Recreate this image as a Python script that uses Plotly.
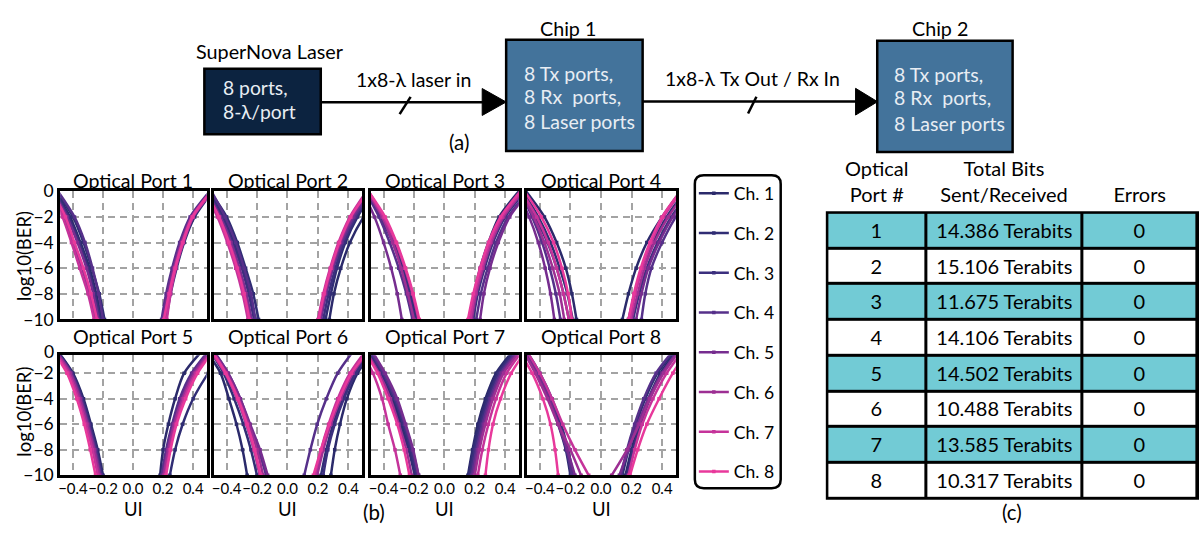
import plotly.graph_objects as go

W, H = 1199, 536
FONT = "Lato"

# ---------------- data ----------------
CHANNELS = ["Ch. 1", "Ch. 2", "Ch. 3", "Ch. 4", "Ch. 5", "Ch. 6", "Ch. 7", "Ch. 8"]
CH_COLORS = ["#2b2a6b", "#302d74", "#3b2f7e", "#56308a", "#762d8f", "#9d2f93", "#c5339a", "#e8399b"]

# log10(BER) levels at which the UI crossing of each bathtub edge is read
BER_LEVELS = [0, -2, -4, -6, -8, -10]

# UI crossing of the left (falling) / right (rising) edge, per channel, at each BER level
P1_LEFT = [[-0.52, -0.42, -0.35, -0.29, -0.245, -0.21], [-0.51, -0.40, -0.33, -0.275, -0.225, -0.19],
           [-0.52, -0.43, -0.36, -0.30, -0.255, -0.22], [-0.50, -0.39, -0.32, -0.27, -0.23, -0.20],
           [-0.53, -0.44, -0.37, -0.31, -0.265, -0.23], [-0.54, -0.46, -0.40, -0.34, -0.29, -0.25],
           [-0.55, -0.47, -0.41, -0.355, -0.30, -0.26], [-0.54, -0.45, -0.39, -0.33, -0.28, -0.24]]
P1_RIGHT = [[0.52, 0.40, 0.33, 0.28, 0.245, 0.215], [0.53, 0.41, 0.34, 0.29, 0.25, 0.22],
            [0.52, 0.40, 0.335, 0.285, 0.245, 0.21], [0.51, 0.38, 0.31, 0.26, 0.22, 0.19],
            [0.52, 0.39, 0.32, 0.27, 0.23, 0.20], [0.52, 0.39, 0.325, 0.275, 0.24, 0.21],
            [0.53, 0.40, 0.335, 0.285, 0.25, 0.225], [0.52, 0.395, 0.33, 0.28, 0.24, 0.205]]

P2_LEFT = [[-0.52, -0.42, -0.35, -0.295, -0.25, -0.215], [-0.51, -0.40, -0.33, -0.275, -0.225, -0.19],
           [-0.52, -0.43, -0.36, -0.30, -0.255, -0.22], [-0.50, -0.41, -0.34, -0.285, -0.24, -0.21],
           [-0.53, -0.44, -0.37, -0.315, -0.27, -0.235], [-0.54, -0.45, -0.38, -0.325, -0.28, -0.245],
           [-0.55, -0.46, -0.395, -0.34, -0.295, -0.26], [-0.54, -0.45, -0.385, -0.33, -0.285, -0.25]]
P2_RIGHT = [[0.63, 0.50, 0.41, 0.35, 0.305, 0.275], [0.57, 0.46, 0.38, 0.325, 0.285, 0.25],
            [0.56, 0.45, 0.37, 0.315, 0.27, 0.235], [0.55, 0.44, 0.36, 0.30, 0.255, 0.22],
            [0.54, 0.43, 0.35, 0.295, 0.25, 0.215], [0.53, 0.42, 0.345, 0.29, 0.245, 0.21],
            [0.52, 0.41, 0.335, 0.28, 0.235, 0.20], [0.53, 0.415, 0.34, 0.285, 0.24, 0.205]]

P3_LEFT = [[-0.50, -0.40, -0.32, -0.26, -0.21, -0.175], [-0.51, -0.41, -0.33, -0.27, -0.22, -0.185],
           [-0.51, -0.42, -0.34, -0.28, -0.23, -0.195], [-0.52, -0.43, -0.36, -0.30, -0.25, -0.21],
           [-0.54, -0.46, -0.40, -0.35, -0.31, -0.28], [-0.51, -0.41, -0.34, -0.285, -0.24, -0.20],
           [-0.50, -0.40, -0.32, -0.26, -0.21, -0.17], [-0.50, -0.39, -0.315, -0.255, -0.205, -0.165]]
P3_RIGHT = [[0.49, 0.36, 0.29, 0.235, 0.195, 0.165], [0.50, 0.375, 0.30, 0.245, 0.205, 0.175],
            [0.53, 0.40, 0.32, 0.265, 0.22, 0.19], [0.55, 0.42, 0.34, 0.285, 0.24, 0.21],
            [0.56, 0.43, 0.355, 0.30, 0.26, 0.235], [0.52, 0.39, 0.31, 0.255, 0.21, 0.18],
            [0.51, 0.38, 0.30, 0.245, 0.20, 0.17], [0.50, 0.37, 0.29, 0.235, 0.19, 0.155]]

P4_LEFT = [[-0.49, -0.37, -0.29, -0.23, -0.19, -0.16], [-0.51, -0.41, -0.33, -0.27, -0.22, -0.185],
           [-0.52, -0.43, -0.35, -0.29, -0.245, -0.21], [-0.53, -0.45, -0.385, -0.335, -0.295, -0.265],
           [-0.55, -0.47, -0.41, -0.365, -0.33, -0.305], [-0.53, -0.44, -0.37, -0.315, -0.27, -0.24],
           [-0.52, -0.42, -0.345, -0.29, -0.245, -0.21], [-0.50, -0.39, -0.31, -0.255, -0.215, -0.19]]
P4_RIGHT = [[0.52, 0.40, 0.30, 0.23, 0.18, 0.14], [0.55, 0.43, 0.34, 0.27, 0.22, 0.18],
            [0.58, 0.46, 0.37, 0.30, 0.25, 0.21], [0.62, 0.49, 0.40, 0.33, 0.29, 0.265],
            [0.60, 0.47, 0.38, 0.31, 0.265, 0.23], [0.56, 0.44, 0.35, 0.285, 0.24, 0.20],
            [0.53, 0.41, 0.33, 0.27, 0.225, 0.19], [0.52, 0.40, 0.32, 0.26, 0.215, 0.18]]

P5_LEFT = [[-0.52, -0.40, -0.33, -0.28, -0.235, -0.20], [-0.52, -0.405, -0.335, -0.285, -0.24, -0.205],
           [-0.52, -0.41, -0.34, -0.29, -0.245, -0.21], [-0.53, -0.41, -0.345, -0.295, -0.25, -0.215],
           [-0.53, -0.415, -0.35, -0.30, -0.255, -0.22], [-0.53, -0.42, -0.355, -0.305, -0.26, -0.225],
           [-0.54, -0.43, -0.365, -0.315, -0.27, -0.235], [-0.55, -0.44, -0.375, -0.325, -0.285, -0.25]]
P5_RIGHT = [[0.48, 0.34, 0.28, 0.235, 0.20, 0.18], [0.62, 0.50, 0.40, 0.33, 0.28, 0.245],
            [0.53, 0.40, 0.32, 0.265, 0.225, 0.195], [0.52, 0.39, 0.31, 0.26, 0.22, 0.19],
            [0.53, 0.40, 0.325, 0.27, 0.23, 0.20], [0.54, 0.41, 0.33, 0.275, 0.235, 0.205],
            [0.55, 0.42, 0.34, 0.285, 0.245, 0.215], [0.55, 0.43, 0.35, 0.29, 0.25, 0.22]]

P6_LEFT = [[-0.55, -0.44, -0.385, -0.335, -0.295, -0.265], [-0.52, -0.42, -0.35, -0.29, -0.24, -0.20],
           [-0.51, -0.41, -0.33, -0.27, -0.22, -0.18], [-0.50, -0.39, -0.31, -0.25, -0.19, -0.14],
           [-0.50, -0.39, -0.31, -0.245, -0.18, -0.13], [-0.51, -0.40, -0.32, -0.255, -0.20, -0.16],
           [-0.52, -0.41, -0.33, -0.27, -0.22, -0.18], [-0.51, -0.405, -0.325, -0.265, -0.215, -0.175]]
P6_RIGHT = [[0.58, 0.46, 0.39, 0.345, 0.31, 0.285], [0.56, 0.44, 0.36, 0.30, 0.255, 0.22],
            [0.57, 0.45, 0.37, 0.31, 0.265, 0.235], [0.45, 0.33, 0.255, 0.195, 0.15, 0.11],
            [0.54, 0.42, 0.34, 0.28, 0.23, 0.19], [0.55, 0.43, 0.35, 0.285, 0.235, 0.195],
            [0.53, 0.41, 0.33, 0.27, 0.22, 0.18], [0.55, 0.42, 0.34, 0.275, 0.22, 0.17]]

P7_LEFT = [[-0.52, -0.42, -0.34, -0.28, -0.225, -0.185], [-0.53, -0.43, -0.35, -0.29, -0.235, -0.195],
           [-0.51, -0.41, -0.33, -0.27, -0.22, -0.18], [-0.50, -0.40, -0.32, -0.26, -0.21, -0.17],
           [-0.49, -0.39, -0.31, -0.255, -0.205, -0.17], [-0.53, -0.43, -0.355, -0.30, -0.25, -0.215],
           [-0.56, -0.47, -0.41, -0.37, -0.325, -0.29], [-0.54, -0.44, -0.37, -0.31, -0.265, -0.23]]
P7_RIGHT = [[0.47, 0.34, 0.27, 0.22, 0.185, 0.155], [0.48, 0.35, 0.28, 0.23, 0.19, 0.16],
            [0.49, 0.36, 0.29, 0.24, 0.20, 0.17], [0.50, 0.37, 0.30, 0.25, 0.21, 0.18],
            [0.51, 0.38, 0.31, 0.26, 0.22, 0.19], [0.52, 0.39, 0.32, 0.27, 0.23, 0.20],
            [0.53, 0.41, 0.34, 0.29, 0.25, 0.22], [0.55, 0.44, 0.37, 0.32, 0.29, 0.27]]

P8_LEFT = [[-0.51, -0.41, -0.33, -0.27, -0.22, -0.19], [-0.52, -0.42, -0.34, -0.28, -0.23, -0.20],
           [-0.50, -0.40, -0.32, -0.26, -0.215, -0.18], [-0.51, -0.41, -0.335, -0.275, -0.225, -0.19],
           [-0.52, -0.42, -0.34, -0.28, -0.22, -0.17], [-0.52, -0.43, -0.35, -0.28, -0.20, -0.13],
           [-0.50, -0.40, -0.32, -0.25, -0.17, -0.08], [-0.55, -0.45, -0.38, -0.33, -0.30, -0.28]]
P8_RIGHT = [[0.51, 0.39, 0.31, 0.25, 0.20, 0.16], [0.50, 0.37, 0.29, 0.23, 0.18, 0.14],
            [0.52, 0.40, 0.32, 0.26, 0.21, 0.17], [0.49, 0.36, 0.28, 0.22, 0.17, 0.13],
            [0.52, 0.40, 0.31, 0.24, 0.18, 0.12], [0.53, 0.41, 0.32, 0.25, 0.17, 0.07],
            [0.55, 0.43, 0.34, 0.27, 0.22, 0.18], [0.58, 0.47, 0.38, 0.30, 0.24, 0.19]]

PORT_TITLES = ["Optical Port 1", "Optical Port 2", "Optical Port 3", "Optical Port 4",
               "Optical Port 5", "Optical Port 6", "Optical Port 7", "Optical Port 8"]
PORT_LEFT = [P1_LEFT, P2_LEFT, P3_LEFT, P4_LEFT, P5_LEFT, P6_LEFT, P7_LEFT, P8_LEFT]
PORT_RIGHT = [P1_RIGHT, P2_RIGHT, P3_RIGHT, P4_RIGHT, P5_RIGHT, P6_RIGHT, P7_RIGHT, P8_RIGHT]

X_TICKS = [-0.4, -0.2, 0.0, 0.2, 0.4]
Y_TICKS = [0, -2, -4, -6, -8, -10]

TABLE_HEADERS = ["Optical<br>Port #", "Total Bits<br>Sent/Received", "Errors"]
TABLE_PORTS = [1, 2, 3, 4, 5, 6, 7, 8]
TABLE_BITS = ["14.386 Terabits", "15.106 Terabits", "11.675 Terabits", "14.106 Terabits",
              "14.502 Terabits", "10.488 Terabits", "13.585 Terabits", "10.317 Terabits"]
TABLE_ERRORS = [0, 0, 0, 0, 0, 0, 0, 0]

# ---------------- layout helpers (pixel -> paper) ----------------
def px(x):
    return x / W


def py(y):
    return 1 - y / H


COL_X = [(58.3, 205.0), (212.0, 360.7), (369.3, 517.7), (525.7, 675.0)]
ROW_Y = [(187.6, 321.0), (358.3, 483.3)]
Y_RANGES = [[-10, 0], [-10, -0.6]]
X_RANGE = [-0.485, 0.49]

fig = go.Figure()

for p in range(8):
    r, c = divmod(p, 4)
    ax = "" if p == 0 else str(p + 1)
    for ch in range(8):
        left = PORT_LEFT[p][ch]
        right = PORT_RIGHT[p][ch]
        xs = list(left) + [None] + list(reversed(right))
        ys = list(BER_LEVELS) + [None] + list(reversed(BER_LEVELS))
        fig.add_trace(go.Scatter(
            x=xs, y=ys, mode="lines+markers", name=CHANNELS[ch],
            legendgroup=CHANNELS[ch], showlegend=(p == 0),
            line=dict(color=CH_COLORS[ch], width=2.5, shape="spline", smoothing=0.8),
            marker=dict(symbol="square", size=3.5, color=CH_COLORS[ch]),
            xaxis="x" + ax, yaxis="y" + ax, connectgaps=False,
        ))

axis_common = dict(
    showline=True, mirror=True, linecolor="black", linewidth=3,
    showgrid=True, gridcolor="#a3a3a3", gridwidth=1.8, griddash="7px,5px",
    zeroline=False, ticks="", tickangle=0,
)
layout_axes = {}
for p in range(8):
    r, c = divmod(p, 4)
    key = "" if p == 0 else str(p + 1)
    layout_axes["xaxis" + key] = dict(
        axis_common, domain=[px(COL_X[c][0]), px(COL_X[c][1])], range=X_RANGE,
        tickvals=X_TICKS, tickformat=".1f", showticklabels=(r == 1), ticklabelstandoff=-2,
        anchor="y" + key, tickfont=dict(family=FONT, size=15, color="black"),
    )
    layout_axes["yaxis" + key] = dict(
        axis_common, domain=[py(ROW_Y[r][1]), py(ROW_Y[r][0])], range=Y_RANGES[r],
        tickvals=Y_TICKS, showticklabels=(c == 0), anchor="x" + key,
        tickfont=dict(family=FONT, size=17.5, color="black"),
    )

# ---------------- table (c): heatmap cells on their own axes ----------------
TBL_X0, TBL_X1, TBL_Y0, TBL_Y1 = 826.7, 1197.5, 210.0, 507.3
COL_WIDTHS = [99.0, 156.0, 115.8]
col_edges = [0.0]
for wdt in COL_WIDTHS:
    col_edges.append(col_edges[-1] + wdt)
col_centers = [(col_edges[i] + col_edges[i + 1]) / 2 for i in range(3)]
n_rows = len(TABLE_PORTS)
row_band = [[i % 2 for _ in range(3)] for i in range(n_rows)]  # alternate teal / white bands
cell_text = [[str(TABLE_PORTS[i]), TABLE_BITS[i], str(TABLE_ERRORS[i])] for i in range(n_rows)]

fig.add_trace(go.Heatmap(
    z=row_band, x=col_edges, y=list(range(n_rows + 1)), text=cell_text,
    texttemplate="%{text}", textfont=dict(family=FONT, size=20, color="black"),
    colorscale=[[0, "#72cbd5"], [1, "#ffffff"]], zmin=0, zmax=1, showscale=False,
    xgap=3, ygap=3, hoverinfo="skip", xaxis="x9", yaxis="y9", showlegend=False,
))
layout_axes["xaxis9"] = dict(
    domain=[px(TBL_X0), px(TBL_X1)], range=[0, col_edges[-1]], side="top", anchor="y9",
    tickvals=col_centers, ticktext=TABLE_HEADERS, showgrid=False, zeroline=False,
    showline=False, ticks="", tickangle=0, fixedrange=True, ticklabelstandoff=6,
    tickfont=dict(family=FONT, size=20, color="black"),
)
layout_axes["yaxis9"] = dict(
    domain=[py(TBL_Y1), py(TBL_Y0)], range=[n_rows, 0], anchor="x9", showgrid=False,
    zeroline=False, showline=False, showticklabels=False, ticks="", fixedrange=True,
)
fig.update_layout(**layout_axes)

# ---------------- shapes (block diagram, table frame, legend frame) ----------------
shapes = []


def rect(x0, y0, x1, y1, fill, lw=2.5, layer="above"):
    shapes.append(dict(type="rect", xref="paper", yref="paper", x0=px(x0), x1=px(x1),
                       y0=py(y1), y1=py(y0), fillcolor=fill, layer=layer,
                       line=dict(color="black", width=lw)))


def seg(x0, y0, x1, y1, lw=2.5):
    shapes.append(dict(type="line", xref="paper", yref="paper", x0=px(x0), x1=px(x1),
                       y0=py(y0), y1=py(y1), line=dict(color="black", width=lw)))


def tri(xb, yt, yb, xt, yc):
    path = f"M {px(xb)},{py(yt)} L {px(xt)},{py(yc)} L {px(xb)},{py(yb)} Z"
    shapes.append(dict(type="path", xref="paper", yref="paper", path=path,
                       fillcolor="black", line=dict(color="black", width=1)))


# black backing of the table: shows through the cell gaps as 3 px rules
rect(TBL_X0 - 1.5, TBL_Y0 - 1.5, TBL_X1 + 1.5, TBL_Y1 + 1.5, "black", lw=0, layer="below")

rect(202.7, 60, 319.3, 128.3, "#0c2340")
rect(505, 30, 641.7, 145.7, "#43739b")
rect(876.7, 31, 1012.3, 146.7, "#43739b")
seg(319.3, 95, 484, 95)
tri(481, 80.7, 108.7, 505, 94.7)
seg(398.3, 107.3, 409.3, 89.3)
seg(641.7, 94.3, 856, 94.3)
tri(855, 80.5, 108.3, 877, 94.4)
seg(747.3, 106.7, 755.7, 89.3)

# rounded legend frame
lx0, ly0, lx1, ly1, rr = 694, 171, 780, 496.7, 9


def P(x, y):
    return f"{px(x)},{py(y)}"


legend_path = (f"M {P(lx0 + rr, ly0)} L {P(lx1 - rr, ly0)} Q {P(lx1, ly0)} {P(lx1, ly0 + rr)} "
               f"L {P(lx1, ly1 - rr)} Q {P(lx1, ly1)} {P(lx1 - rr, ly1)} "
               f"L {P(lx0 + rr, ly1)} Q {P(lx0, ly1)} {P(lx0, ly1 - rr)} "
               f"L {P(lx0, ly0 + rr)} Q {P(lx0, ly0)} {P(lx0 + rr, ly0)} Z")
shapes.append(dict(type="path", xref="paper", yref="paper", path=legend_path,
                   line=dict(color="black", width=2.5), fillcolor="rgba(0,0,0,0)"))

# ---------------- annotations ----------------
ann = []


def text(t, x, y, size=17, color="black", xanchor="center", angle=0):
    ann.append(dict(text=t, x=px(x), y=py(y), xref="paper", yref="paper", showarrow=False,
                    xanchor=xanchor, yanchor="middle", textangle=angle,
                    font=dict(family=FONT, size=size, color=color)))


NBSP = "\u00a0"
BOX_TXT = "#e8edf3"
text("SuperNova Laser", 268, 42, 19.8)
text("8 ports,", 219.5, 80, 19.3, BOX_TXT, "left")
text("8-λ/port", 219.5, 104.3, 19.3, BOX_TXT, "left")
text("1x8-λ laser in", 411.7, 71, 19.5)
text("Chip 1", 567, 18.3, 19.7)
for yy, t in zip([65, 89.3, 115], ["8 Tx ports,", "8 Rx" + NBSP + NBSP + "ports,", "8 Laser ports"]):
    text(t, 520.5, yy, 19.5, BOX_TXT, "left")
text("(a)", 458, 136.7, 20.5)
text("1x8-λ Tx Out / Rx In", 751.7, 70, 19.5)
text("Chip 2", 940, 18.3, 19.7)
for yy, t in zip([65.7, 90, 116.7], ["8 Tx ports,", "8 Rx" + NBSP + NBSP + "ports,", "8 Laser ports"]):
    text(t, 891.5, yy, 19.5, BOX_TXT, "left")

for p in range(8):
    r, c = divmod(p, 4)
    cx = (COL_X[c][0] + COL_X[c][1]) / 2
    text(PORT_TITLES[p], cx, 176 if r == 0 else 338.3, 19.6)
    if r == 1:
        text("UI", cx, 518, 18.5)
text("log10(BER)", 22, 255, 18.5, angle=-90)
text("log10(BER)", 22, 417, 18.5, angle=-90)
text("0", 54, 354.5, 17.5, xanchor="right")
text("(b)", 373, 521, 20.5)
text("(c)", 1011.7, 521, 20.5)

fig.update_layout(
    width=W, height=H, margin=dict(l=0, r=0, t=0, b=0),
    paper_bgcolor="white", plot_bgcolor="white",
    font=dict(family=FONT, size=16, color="black"),
    shapes=shapes, annotations=ann,
    legend=dict(x=px(693), y=py(171), xanchor="left", yanchor="top",
                bgcolor="rgba(0,0,0,0)", borderwidth=0, traceorder="grouped",
                tracegroupgap=14, itemwidth=30,
                font=dict(family=FONT, size=17.5, color="black")),
)

PAGE_FIX = ("var s='margin:0;padding:0;overflow:hidden;height:536px;width:1199px';"
            "document.documentElement.style.cssText=s;document.body.style.cssText=s;")
fig.write_html("out.html", config={"displayModeBar": False}, post_script=PAGE_FIX)
